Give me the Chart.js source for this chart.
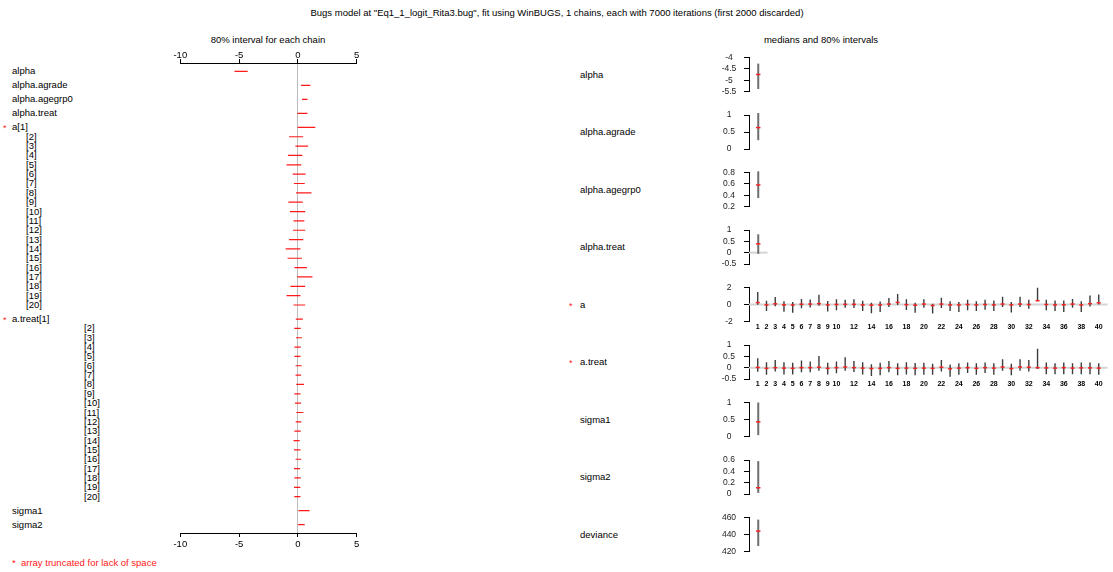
<!DOCTYPE html>
<html>
<head>
<meta charset="utf-8">
<script src="https://cdn.jsdelivr.net/npm/chart.js@4/dist/chart.umd.min.js"></script>
<style>
  html, body { margin: 0; padding: 0; background: #fff; }
  body { position: relative; width: 1113px; height: 572px; overflow: hidden;
         font-family: "Liberation Sans", Arial, sans-serif; color: #000; }
  .t { position: absolute; white-space: pre; line-height: 1; transform: translateY(-50%); }
  .c { transform: translate(-50%, -50%); }
  .red { color: #ff2020; }
  canvas { position: absolute; }
</style>
</head>
<body>
<script>
// ---- summary values: medians and 80% intervals ----
const scalarNames  = ["alpha", "alpha.agrade", "alpha.agegrp0", "alpha.treat"];
const scalarMedian = [-4.75, 0.63, 0.58, 0.39];
const scalarLow    = [-5.39, 0.26, 0.35, -0.05];
const scalarHigh   = [-4.27, 1.06, 0.82, 0.81];

const aMedian = [0.23,-0.05,0.08,-0.04,-0.06,0.03,0.05,0.10,-0.05,0.00,0.02,0.02,-0.05,-0.08,-0.05,0.05,0.25,-0.02,-0.08,0.05,
                 -0.12,0.05,-0.05,-0.05,0.00,-0.05,0.00,-0.05,0.05,-0.05,0.05,0.00,0.45,0.00,-0.05,-0.03,0.05,-0.05,0.10,0.20];
const aLow    = [-0.02,-0.75,-0.21,-0.85,-0.97,-0.44,-0.34,-0.15,-0.81,-0.68,-0.37,-0.42,-0.75,-1.04,-0.88,-0.29,-0.06,-0.64,-0.97,-0.37,
                 -1.07,-0.42,-0.76,-0.88,-0.69,-0.76,-0.61,-0.76,-0.30,-0.95,-0.30,-0.50,0.38,-0.69,-0.76,-0.88,-0.38,-0.88,-0.23,0.00];
const aHigh   = [1.48,0.45,0.87,0.38,0.29,0.65,0.58,1.15,0.41,0.62,0.55,0.62,0.45,0.22,0.34,0.77,1.24,0.62,0.22,0.62,
                 0.08,0.80,0.38,0.30,0.57,0.38,0.57,0.46,0.91,0.30,0.91,0.57,1.98,0.57,0.46,0.46,0.65,0.38,1.07,1.18];

const aTreatMedian = [0.01,-0.03,0.00,-0.02,-0.03,0.00,0.00,0.02,-0.03,0.00,0.03,0.00,-0.02,-0.04,-0.03,0.00,-0.03,-0.02,-0.03,-0.02,
                      -0.03,0.02,-0.05,-0.02,0.00,-0.03,0.00,-0.02,0.03,-0.04,0.03,0.02,0.00,-0.01,-0.02,0.00,-0.02,-0.01,-0.01,-0.02];
const aTreatLow    = [-0.18,-0.31,-0.17,-0.30,-0.30,-0.20,-0.20,-0.14,-0.30,-0.25,-0.14,-0.19,-0.30,-0.37,-0.33,-0.20,-0.33,-0.30,-0.33,-0.31,
                      -0.31,-0.17,-0.40,-0.31,-0.23,-0.31,-0.23,-0.31,-0.14,-0.34,-0.14,-0.17,-0.06,-0.29,-0.29,-0.29,-0.29,-0.29,-0.29,-0.31];
const aTreatHigh   = [0.42,0.24,0.34,0.24,0.22,0.32,0.27,0.52,0.22,0.27,0.46,0.29,0.24,0.15,0.22,0.29,0.19,0.24,0.21,0.22,
                      0.17,0.34,0.14,0.20,0.23,0.19,0.23,0.20,0.37,0.17,0.37,0.34,0.83,0.23,0.20,0.23,0.20,0.23,0.23,0.20];

const sigmaNames  = ["sigma1", "sigma2"];
const sigmaMedian = [0.43, 0.11];
const sigmaLow    = [0.04, 0.02];
const sigmaHigh   = [1.00, 0.58];

const devianceMedian = [444];
const devianceLow    = [426.5];
const devianceHigh   = [457.5];

// ---- tick labels ----
const chainAxisTicks = [-10, -5, 0, 5];
const indexTicks = [1,2,3,4,5,6,7,8,9,10,12,14,16,18,20,22,24,26,28,30,32,34,36,38,40];
const alphaTicks    = [-5.5, -5, -4.5, -4];
const agradeTicks   = [0, 0.5, 1];
const agegrpTicks   = [0.2, 0.4, 0.6, 0.8];
const treatTicks    = [-0.5, 0, 0.5, 1];
const aTicks        = [-2, 0, 2];
const aTreatTicks   = [-0.5, 0, 0.5, 1];
const sigma1Ticks   = [0, 0.5, 1];
const sigma2Ticks   = [0, 0.2, 0.4, 0.6];
const devianceTicks = [420, 440, 460];

const LEFT_SHOWN = 20;   // array elements that fit in the left column

// ---------------------------------------------------------------
const FONT = '"Liberation Sans", Arial, sans-serif';
const measureCtx = document.createElement('canvas').getContext('2d');

function addText(txt, x, y, size, cls) {
  const d = document.createElement('div');
  d.className = 't' + (cls ? ' ' + cls : '');
  d.textContent = txt;
  d.style.left = x + 'px';
  d.style.top = y + 'px';
  d.style.fontSize = size + 'px';
  document.body.appendChild(d);
  return d;
}

function makeCanvas(left, top, w, h) {
  const c = document.createElement('canvas');
  c.width = w; c.height = h;
  c.style.left = left + 'px'; c.style.top = top + 'px';
  c.style.width = w + 'px'; c.style.height = h + 'px';
  document.body.appendChild(c);
  return c;
}

const baseOpts = {
  responsive: false, animation: false, events: [],
  plugins: { legend: { display: false }, tooltip: { enabled: false } }
};

// headings
addText('Bugs model at "Eq1_1_logit_Rita3.bug", fit using WinBUGS, 1 chains, each with 7000 iterations (first 2000 discarded)', 557, 13, 9.5, 'c');
addText('80% interval for each chain', 268, 40, 9.5, 'c');
addText('medians and 80% intervals', 821, 40, 9.5, 'c');
addText('*  array truncated for lack of space', 12, 563, 9.5, 'red');

// ================= left column: 80% interval for each chain =================
const leftRows = [];
(function buildRows() {
  let pos = -1.5;
  const add = (label, x, lo, hi, gap, star) => { pos += gap; leftRows.push({ label, x, lo, hi, pos, star }); };
  scalarNames.forEach((n, i) => add(n, 12, scalarLow[i], scalarHigh[i], 1.5));
  for (let k = 0; k < LEFT_SHOWN; k++)
    add(k === 0 ? 'a[1]' : '[' + (k + 1) + ']', k === 0 ? 12 : 26, aLow[k], aHigh[k], k === 0 ? 1.5 : 1, k === 0);
  for (let k = 0; k < LEFT_SHOWN; k++)
    add(k === 0 ? 'a.treat[1]' : '[' + (k + 1) + ']', k === 0 ? 12 : 84, aTreatLow[k], aTreatHigh[k], k === 0 ? 1.5 : 1, k === 0);
  sigmaNames.forEach((n, i) => add(n, 12, sigmaLow[i], sigmaHigh[i], 1.5));
})();

const leftSegments = [];
leftRows.forEach(r => {
  leftSegments.push({ x: r.lo, y: r.pos }, { x: r.hi, y: r.pos }, { x: r.hi, y: null });
});

const L_TOP = 43, L_LEFT = 170, L_AXIS_H = 20;
const leftCanvas = makeCanvas(L_LEFT, L_TOP, 197, 510);
const lastPos = leftRows[leftRows.length - 1].pos;

function chainAxis(position) {
  return {
    type: 'linear', position, min: -10, max: 5,
    afterBuildTicks: s => { s.ticks = chainAxisTicks.map(v => ({ value: v })); },
    afterFit: s => { s.height = L_AXIS_H; s.paddingLeft = 0; s.paddingRight = 0; },
    border: { display: true, color: '#000', width: 1 },
    grid: {
      drawOnChartArea: position === 'bottom', drawTicks: true, tickLength: 4, tickColor: '#000',
      color: ctx => (ctx.tick && ctx.tick.value === 0) ? '#bdbdbd' : 'rgba(0,0,0,0)', lineWidth: 1
    },
    ticks: { color: '#000', font: { size: 9.5, family: FONT }, padding: position === 'top' ? -2 : 2,
             maxRotation: 0, autoSkip: false, callback: v => String(v) }
  };
}

const leftChart = new Chart(leftCanvas, {
  type: 'scatter',
  data: { datasets: [{
    data: leftSegments, showLine: true, spanGaps: false,
    borderColor: '#ff1a1a', borderWidth: 1.2, pointRadius: 0, clip: false
  }] },
  options: Object.assign({}, baseOpts, {
    layout: { padding: { left: 10.3, right: 10.3, top: 0, bottom: 0 } },
    scales: {
      x: chainAxis('bottom'),
      x2: chainAxis('top'),
      y: { type: 'linear', display: false, reverse: true, min: -0.89, max: lastPos + 0.89 }
    }
  })
});

leftRows.forEach(r => {
  const y = L_TOP + leftChart.scales.y.getPixelForValue(r.pos);
  addText(r.label, r.x, y, 9.5);
  if (r.star) addText('*', 3, y + 1, 9, 'red');
});

// ================= right column: medians and 80% intervals =================
const PANEL_TOP = 57.5, PANEL_STEP = 57.5, PANEL_H = 34, AXIS_X = 749, AXIS_W = 40;
const Y_TICK_LEN = 5, Y_LABEL_CENTER = 729, Y_TICK_FONT = 8.5;

function drawPanel(index, name, med, lo, hi, ticks, star) {
  const n = med.length;
  const indexed = n > 1;
  const areaTop = PANEL_TOP + index * PANEL_STEP;
  const canvasTop = Math.floor(areaTop) - 8;
  const padTop = areaTop - canvasTop;
  const xAxisH = indexed ? 14 : 0;
  const padBottom = indexed ? 0 : 8;
  const plotW = indexed ? 1113 - AXIS_X : 24;
  const w = AXIS_W + plotW;
  const h = Math.ceil(padTop + PANEL_H + xAxisH + padBottom);
  const canvas = makeCanvas(AXIS_X - AXIS_W, canvasTop, w, h);

  const xMin = indexed ? 0 : 0.5, xMax = indexed ? n + 1 : 1.5;
  const sorted = ticks.slice().sort((a, b) => a - b);
  const yMin = sorted[0], yMax = sorted[sorted.length - 1];

  // tick labels are centred on a common column left of the axis
  measureCtx.font = Y_TICK_FONT + 'px ' + FONT;
  const widest = Math.max(...sorted.map(v => measureCtx.measureText(String(v)).width));
  const labelPad = AXIS_X - Y_TICK_LEN - Y_LABEL_CENTER - widest / 2;

  const segs = [], meds = [];
  for (let i = 0; i < n; i++) {
    segs.push({ x: i + 1, y: lo[i] }, { x: i + 1, y: hi[i] }, { x: i + 1, y: null });
    meds.push({ x: i + 1, y: med[i] });
  }
  const datasets = [
    { data: meds, pointStyle: 'line', pointRadius: indexed ? 2 : 2.2, borderColor: '#ff2020', borderWidth: 1.5, clip: false },
    { data: segs, showLine: true, spanGaps: false,
      borderColor: indexed ? '#3c3c3c' : '#6e6e6e', borderWidth: indexed ? 1.4 : 2, pointRadius: 0, clip: false }
  ];
  if (Math.min(...lo) <= 0 && Math.max(...hi) >= 0) {
    datasets.push({ data: [{ x: xMin, y: 0 }, { x: xMax, y: 0 }], showLine: true,
                    borderColor: '#d4d4d4', borderWidth: 2, pointRadius: 0, clip: false });
  }

  const chart = new Chart(canvas, {
    type: 'scatter',
    data: { datasets },
    options: Object.assign({}, baseOpts, {
      layout: { padding: { left: 0, right: 0, top: padTop, bottom: h - padTop - PANEL_H - xAxisH } },
      scales: {
        x: {
          type: 'linear', display: indexed, position: 'bottom', min: xMin, max: xMax,
          afterBuildTicks: s => { s.ticks = indexTicks.filter(v => v <= n).map(v => ({ value: v })); },
          afterFit: s => { s.height = xAxisH; s.paddingLeft = 0; s.paddingRight = 0; },
          border: { display: false },
          grid: { display: false, drawTicks: false },
          ticks: { font: { size: 7, weight: 'bold', family: FONT }, color: '#000', padding: 1,
                   maxRotation: 0, autoSkip: false, callback: v => String(v) }
        },
        y: {
          type: 'linear', position: 'left', min: yMin, max: yMax,
          afterBuildTicks: s => { s.ticks = sorted.map(v => ({ value: v })); },
          afterFit: s => { s.width = AXIS_W; s.paddingTop = 0; s.paddingBottom = 0; },
          border: { display: true, color: '#000', width: 1 },
          grid: { drawOnChartArea: false, drawTicks: true, tickLength: Y_TICK_LEN, tickColor: '#000' },
          ticks: { font: { size: Y_TICK_FONT, family: FONT }, color: '#222', padding: labelPad,
                   crossAlign: 'center', autoSkip: false, callback: v => String(v) }
        }
      }
    })
  });

  const cy = canvasTop + (chart.chartArea.top + chart.chartArea.bottom) / 2;
  addText(name, 580, cy, 9.5);
  if (star) addText('*', 569, cy + 1, 9, 'red');
}

scalarNames.forEach((nm, i) =>
  drawPanel(i, nm, [scalarMedian[i]], [scalarLow[i]], [scalarHigh[i]],
            [alphaTicks, agradeTicks, agegrpTicks, treatTicks][i], false));
drawPanel(4, 'a', aMedian, aLow, aHigh, aTicks, true);
drawPanel(5, 'a.treat', aTreatMedian, aTreatLow, aTreatHigh, aTreatTicks, true);
drawPanel(6, sigmaNames[0], [sigmaMedian[0]], [sigmaLow[0]], [sigmaHigh[0]], sigma1Ticks, false);
drawPanel(7, sigmaNames[1], [sigmaMedian[1]], [sigmaLow[1]], [sigmaHigh[1]], sigma2Ticks, false);
drawPanel(8, 'deviance', devianceMedian, devianceLow, devianceHigh, devianceTicks, false);
</script>
</body>
</html>
